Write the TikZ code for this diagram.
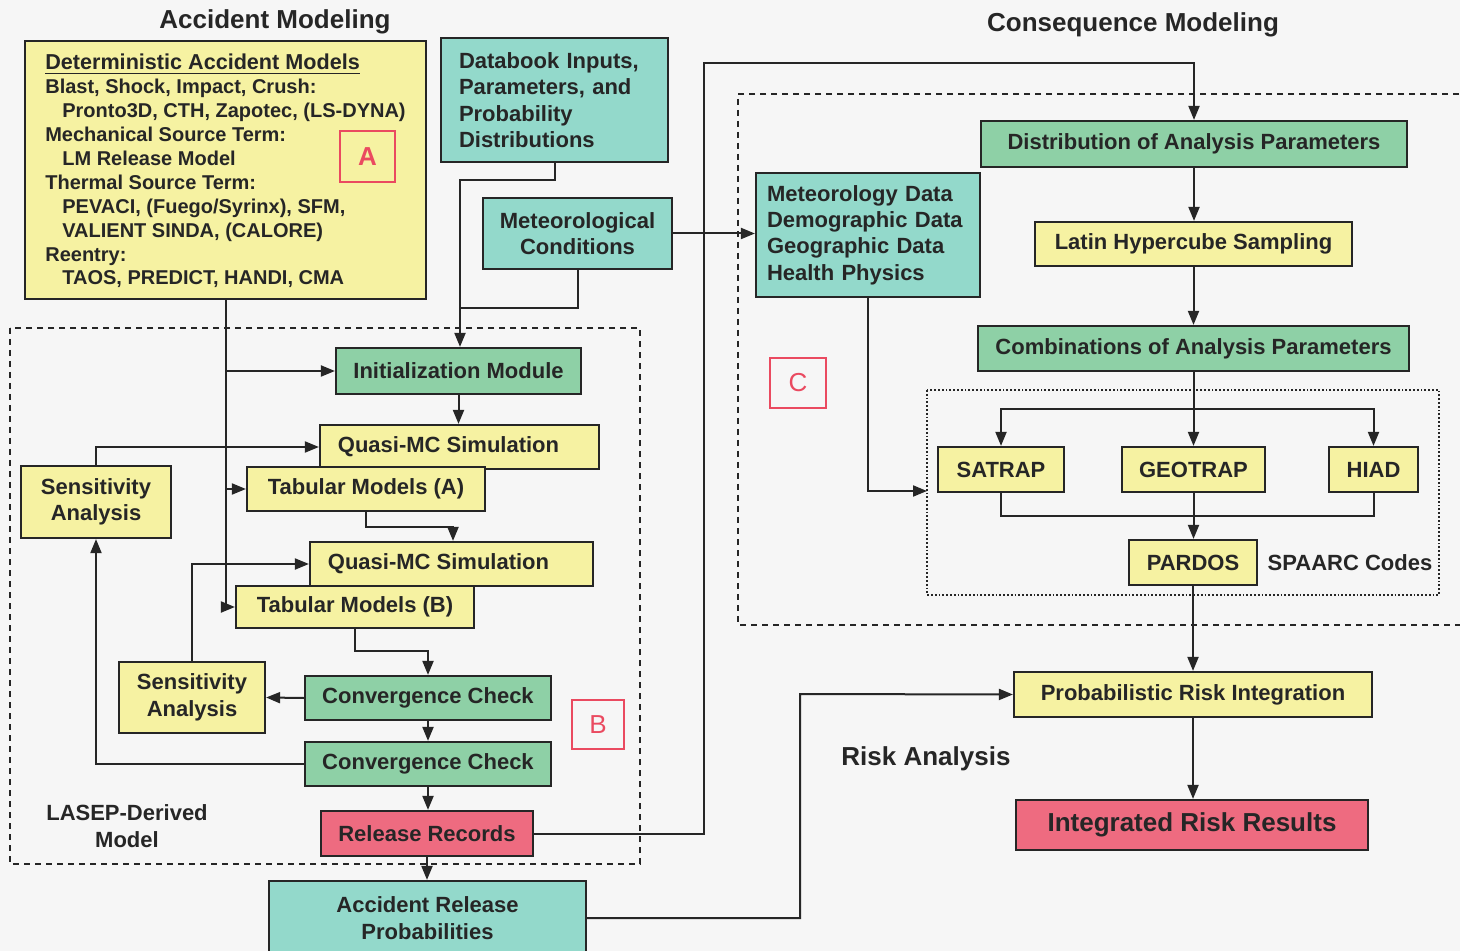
\documentclass[tikz,border=0pt]{standalone}
\usepackage{fontspec}
\setmainfont{Liberation Sans}
\usetikzlibrary{arrows.meta}
\definecolor{paper}{HTML}{F6F6F6}
\definecolor{boxyellow}{HTML}{F6F2A2}
\definecolor{boxteal}{HTML}{93D9CB}
\definecolor{boxgreen}{HTML}{8ED0A6}
\definecolor{boxred}{HTML}{EE6B80}
\definecolor{tagred}{HTML}{EA4A60}
\definecolor{ink}{HTML}{262626}

\begin{document}
\begin{tikzpicture}[x=0.5pt, y=-0.5pt, line width=1pt, draw=ink,
    font=\fontsize{11}{13.2}\selectfont\bfseries,
    box/.style={draw=ink, line width=1.1pt, inner sep=0pt, text=ink},
    ybox/.style={box, fill=boxyellow},
    tbox/.style={box, fill=boxteal},
    gbox/.style={box, fill=boxgreen},
    rbox/.style={box, fill=boxred},
    tag/.style={draw=tagred, line width=0.8pt, text=tagred, inner sep=0pt,
        font=\fontsize{13}{13}\selectfont},
    heading/.style={text=ink, font=\fontsize{13}{15}\selectfont\bfseries},
    arr/.style={-{Triangle[length=7pt,width=5.5pt]}}]
    \fill[paper] (0,0) rectangle (1460,951);
    \useasboundingbox (0,0) rectangle (1460,951);
    % frames
    \draw[dashed, dash pattern=on 3pt off 2.5pt] (10,328) rectangle (640,864);
    \draw[dashed, dash pattern=on 3pt off 2.5pt] (1470,94) -- (738,94) -- (738,625) -- (1470,625);
    \draw[densely dotted, line width=0.9pt] (927,390) rectangle (1439,595);
    % headings
    \node[heading] (accmod) at (275,22) {Accident Modeling};
    \node[heading] (conmod) at (1133,25) {Consequence Modeling};
    \node[heading] (riskan) at (926,759) {Risk Analysis};
    % accident modeling
    \node[ybox, minimum width=200.5pt, minimum height=129pt, align=left,
        font=\fontsize{10}{11.95}\selectfont\bfseries] (boxA) at (225.5,170)
        {\rule{0pt}{9pt}\underline{\fontsize{10.8}{11.95}\selectfont Deterministic Accident Models}\\
         Blast, Shock, Impact, Crush:\\
         \hspace*{8.5pt}Pronto3D, CTH, Zapotec, (LS-DYNA)\\
         Mechanical Source Term:\\
         \hspace*{8.5pt}LM Release Model\\
         Thermal Source Term:\\
         \hspace*{8.5pt}PEVACI, (Fuego/Syrinx), SFM,\\
         \hspace*{8.5pt}VALIENT SINDA, (CALORE)\\
         Reentry:\\
         \hspace*{8.5pt}TAOS, PREDICT, HANDI, CMA};
    \node[tag, minimum width=27.5pt, minimum height=25.5pt, font=\fontsize{13}{13}\selectfont\bfseries] (tagA) at (367.5,156.5) {A};
    \node[tbox, minimum width=113.5pt, minimum height=62pt, align=left, text width=95.5pt] (db) at (554.5,100)
        {Databook Inputs,\\ Parameters, and\\ Probability\\ Distributions};
    \node[tbox, minimum width=94.5pt, minimum height=35.5pt, align=center] (mc) at (577.5,233.5)
        {Meteorological\\ Conditions};
    % LASEP-derived model
    \node[gbox, minimum width=122.5pt, minimum height=23pt] (init) at (458.5,371) {Initialization Module};
    \node[ybox, minimum width=139.5pt, minimum height=22pt] (qmc1) at (459.5,447) {Quasi-MC Simulation\hspace*{11pt}};
    \node[ybox, minimum width=119pt, minimum height=22pt] (tabA) at (366,489) {Tabular Models (A)};
    \node[ybox, minimum width=75pt, minimum height=36pt, align=center] (sens1) at (96,502) {Sensitivity\\ Analysis};
    \node[ybox, minimum width=141.5pt, minimum height=22pt] (qmc2) at (451.5,564) {Quasi-MC Simulation\hspace*{13pt}};
    \node[ybox, minimum width=119pt, minimum height=21pt] (tabB) at (355,607) {Tabular Models (B)};
    \node[ybox, minimum width=73pt, minimum height=35.5pt, align=center] (sens2) at (192,697.5) {Sensitivity\\ Analysis};
    \node[gbox, minimum width=123pt, minimum height=22pt] (conv1) at (428,698) {Convergence Check};
    \node[gbox, minimum width=123pt, minimum height=22pt] (conv2) at (428,764) {Convergence Check};
    \node[rbox, minimum width=106pt, minimum height=22.5pt] (rel) at (427,833.5) {Release Records};
    \node[tbox, minimum width=158.5pt, minimum height=37pt, align=center] (arp) at (427.5,918) {Accident Release\\ Probabilities};
    \node[tag, minimum width=26pt, minimum height=24.5pt] (tagB) at (598,724.5) {B};
    \node[text=ink, align=center] (lasep) at (127,826) {LASEP-Derived\\ Model};
    % consequence modeling
    \node[gbox, minimum width=213pt, minimum height=23pt] (dist) at (1194,144) {Distribution of Analysis Parameters};
    \node[tbox, minimum width=112pt, minimum height=62pt, align=left, text width=101pt] (md) at (868,235)
        {Meteorology Data\\ Demographic Data\\ Geographic Data\\ Health Physics};
    \node[ybox, minimum width=158.5pt, minimum height=22pt] (lhs) at (1193.5,244) {Latin Hypercube Sampling};
    \node[gbox, minimum width=215.5pt, minimum height=22.5pt] (comb) at (1193.5,348.5) {Combinations of Analysis Parameters};
    \node[tag, minimum width=28pt, minimum height=25pt] (tagC) at (798,383) {C};
    \node[ybox, minimum width=63pt, minimum height=22.5pt] (sat) at (1001,469.5) {SATRAP};
    \node[ybox, minimum width=71.5pt, minimum height=22.5pt] (geo) at (1193.5,469.5) {GEOTRAP};
    \node[ybox, minimum width=44.5pt, minimum height=22.5pt] (hiad) at (1373.5,469.5) {HIAD};
    \node[ybox, minimum width=64pt, minimum height=22.5pt] (pardos) at (1193,562.5) {PARDOS};
    \node[text=ink] (spaarc) at (1350,563) {SPAARC Codes};
    % risk analysis
    \node[ybox, minimum width=179pt, minimum height=22.5pt] (pri) at (1193,694.5) {Probabilistic Risk Integration};
    \node[rbox, minimum width=176pt, minimum height=25pt, font=\fontsize{13}{15}\selectfont\bfseries] (irr) at (1192,825) {Integrated Risk Results};
    % bends
    \coordinate (j1) at (460,180);
    \coordinate (j2) at (460,308);
    \coordinate (k1) at (453,527);
    \coordinate (k2) at (428,651);
    \coordinate (r1) at (704,63);
    \coordinate (r2) at (800,694);
    \coordinate (s1) at (1193,409);
    \coordinate (s2) at (1193,516);
    \coordinate (s3) at (927,491);
    % connectors
    \draw[arr] (db.south) |- (j1) -- (j1 |- init.north);
    \draw (mc.south) |- (j2);
    \draw[arr] (mc.east) -- (mc.east -| md.west);
    \draw[arr] (boxA.south) |- (tabB.west);
    \draw[arr] (boxA.south |- init.west) -- (init.west);
    \draw[arr] (boxA.south |- tabA.west) -- (tabA.west);
    \draw[arr] (init.south) -- (init.south |- qmc1.north);
    \draw[arr] (sens1.north) |- (qmc1.west);
    \draw[arr] (tabA.south) |- (k1) -- (k1 |- qmc2.north);
    \draw[arr] (sens2.north) |- (qmc2.west);
    \draw[arr] (tabB.south) |- (k2) -- (conv1.north);
    \draw[arr] (conv1.west) -- (sens2.east);
    \draw[arr] (conv1.south) -- (conv2.north);
    \draw[arr] (conv2.west) -| (sens1.south);
    \draw[arr] (conv2.south) -- (conv2.south |- rel.north);
    \draw[arr] (rel.south) -- (rel.south |- arp.north);
    \draw[arr] (rel.east) -| (r1) -| (dist.north);
    \draw[arr] (arp.east) -| (r2) -- (pri.west);
    \draw[arr] (dist.south) -- (dist.south |- lhs.north);
    \draw[arr] (lhs.south) -- (lhs.south |- comb.north);
    \draw[arr] (comb.south) -- (comb.south |- geo.north);
    \draw[arr] (s1) -| (sat.north);
    \draw[arr] (s1) -| (hiad.north);
    \draw (sat.south) |- (s2) -| (hiad.south);
    \draw[arr] (geo.south) -- (geo.south |- pardos.north);
    \draw[arr] (md.south) |- (s3);
    \draw[arr] (pardos.south) -- (pardos.south |- pri.north);
    \draw[arr] (pri.south) -- (pri.south |- irr.north);
\end{tikzpicture}
\end{document}
